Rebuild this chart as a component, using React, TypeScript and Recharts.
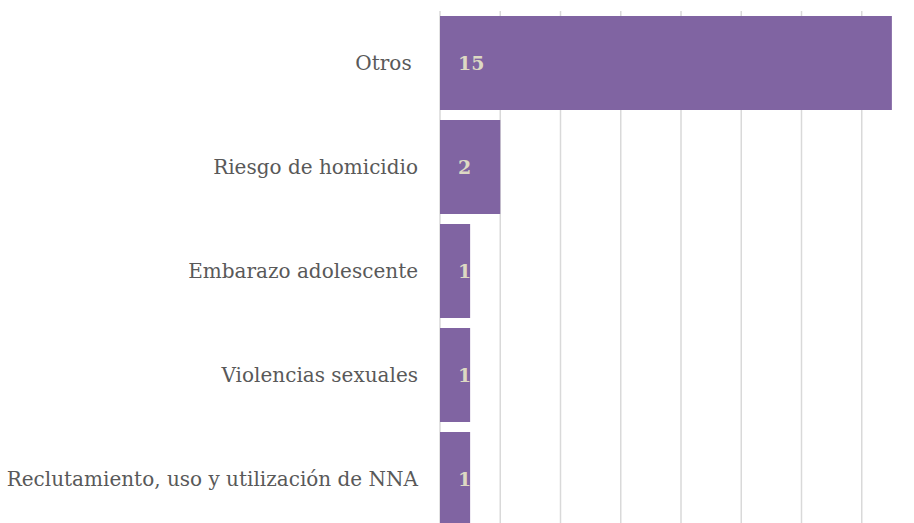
import { BarChart, Bar, XAxis, YAxis, CartesianGrid, LabelList } from 'recharts';

const categories = [
  'Otros\u00a0',
  'Riesgo de homicidio',
  'Embarazo adolescente',
  'Violencias sexuales',
  'Reclutamiento, uso y utilización de NNA',
];
const counts = [15, 2, 1, 1, 1];
const xTicks = [0, 2, 4, 6, 8, 10, 12, 14, 16];

const data = categories.map((name, i) => ({ name, value: counts[i] }));

const FONT = '"DejaVu Serif", serif';
const BAR = '#8064a2';
const LABEL = '#ddd9c3';

// value label drawn inside the bar, clipped to the bar like the original
function InsideLabel(props: any) {
  const { x, y, width, height, value, index } = props;
  const id = `clip-bar-${index}`;
  return (
    <g>
      <defs>
        <clipPath id={id}>
          <rect x={x} y={y} width={width} height={height} />
        </clipPath>
      </defs>
      <text
        x={x + 18}
        y={y + height / 2}
        dy="0.36em"
        fill={LABEL}
        fontFamily={FONT}
        fontWeight="bold"
        fontSize={19}
        clipPath={`url(#${id})`}
      >
        {value}
      </text>
    </g>
  );
}

export default function App() {
  return (
    <div
      style={{
        position: 'fixed',
        top: 0,
        left: 0,
        width: 914,
        height: 523,
        overflow: 'hidden',
        background: '#fff',
      }}
    >
      <BarChart
        width={930}
        height={540}
        data={data}
        layout="vertical"
        margin={{ top: 11, right: 8, bottom: 9, left: 0 }}
        barCategoryGap={5}
      >
        <CartesianGrid horizontal={false} stroke="#d9d9d9" strokeWidth={1.5} />
        <XAxis type="number" domain={[0, 16]} ticks={xTicks} hide />
        <YAxis
          type="category"
          dataKey="name"
          width={440}
          axisLine={false}
          tickLine={false}
          tickSize={0}
          tickMargin={22}
          tick={{ fill: '#595959', fontFamily: FONT, fontSize: 20 }}
        />
        <Bar dataKey="value" fill={BAR} isAnimationActive={false}>
          <LabelList dataKey="value" content={<InsideLabel />} />
        </Bar>
      </BarChart>
    </div>
  );
}
